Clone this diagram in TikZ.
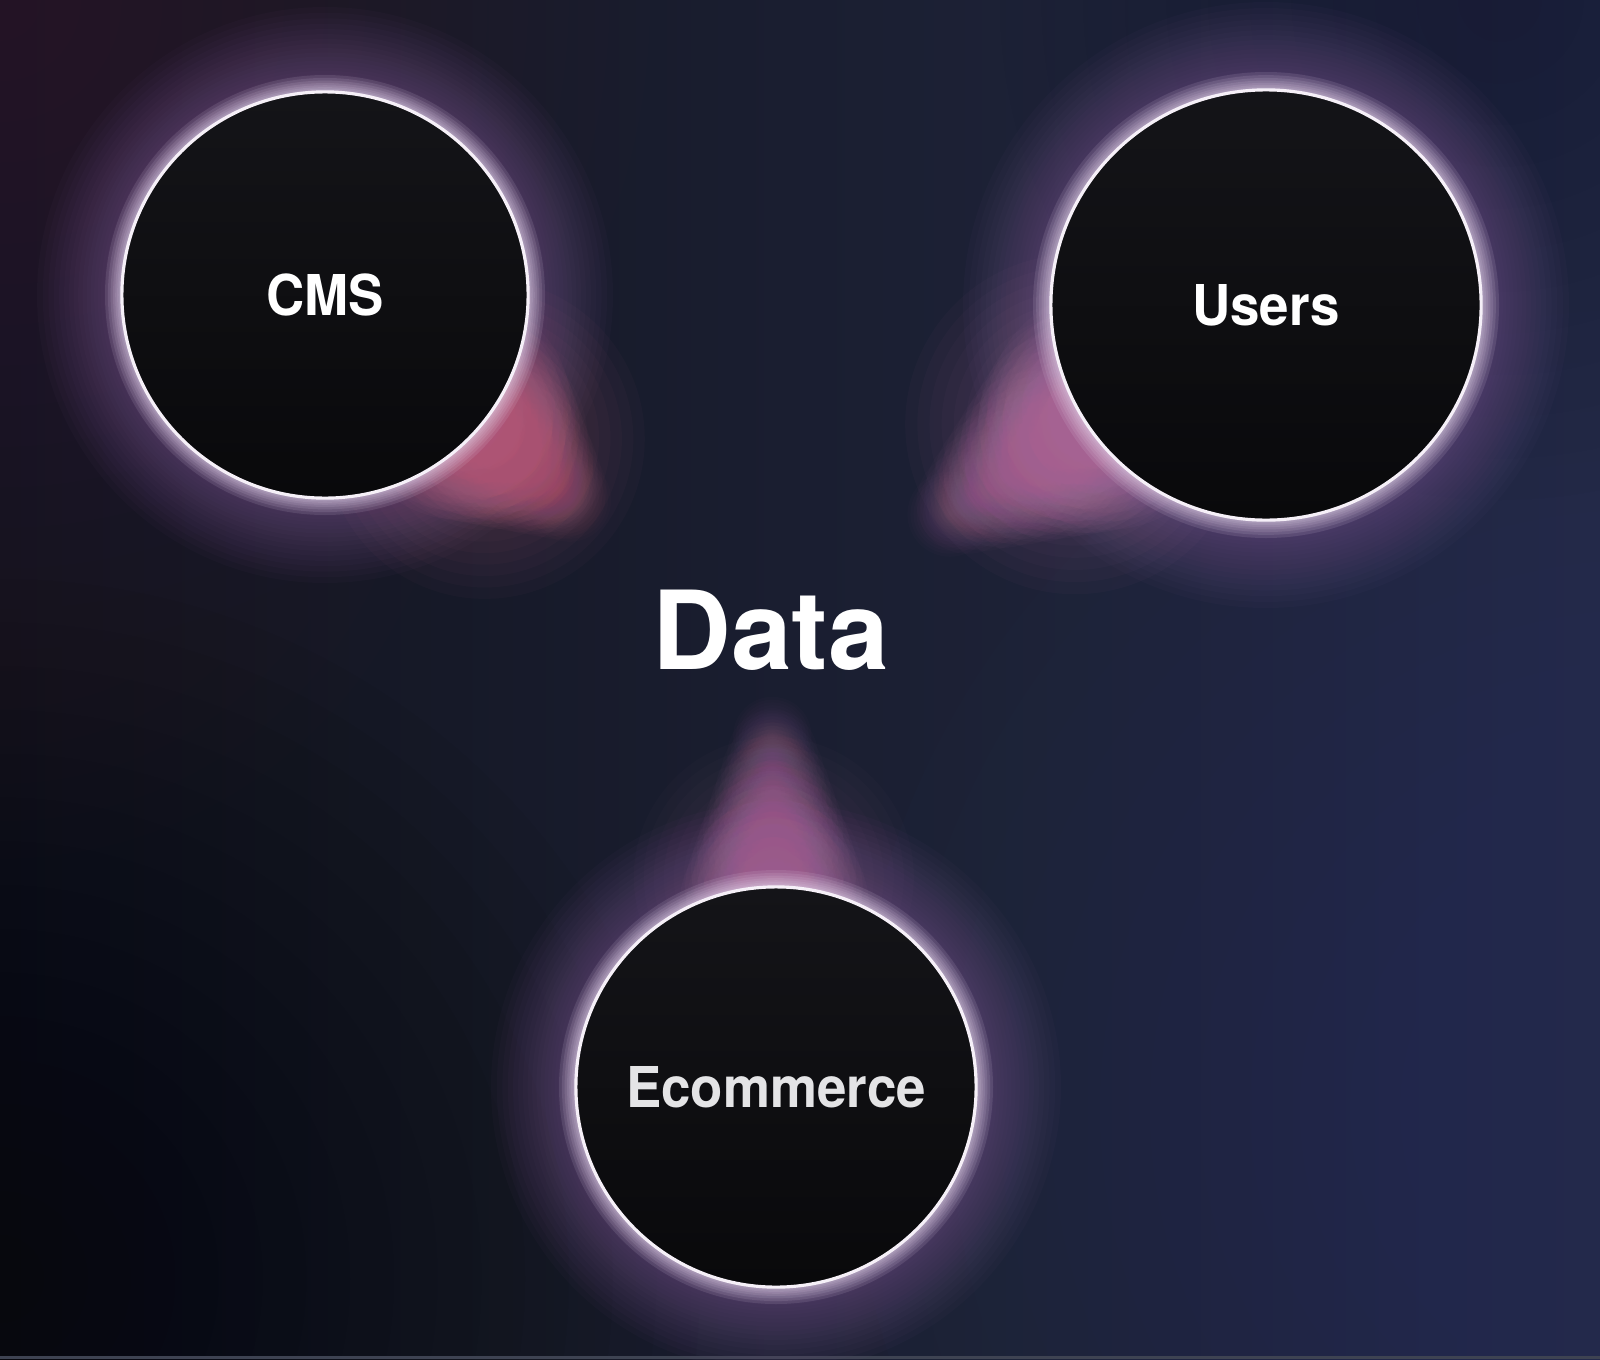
\documentclass[tikz,border=0pt]{standalone}
\usepackage{fontspec}
\setmainfont{TeX Gyre Heros}[FakeStretch=0.94]
\newfontfamily\datafont{TeX Gyre Heros}
\usetikzlibrary{calc}

\definecolor{bgL}{HTML}{11131D}
\definecolor{bgR}{HTML}{232944}
\definecolor{tintTL}{HTML}{3C2238}
\definecolor{tintLE}{HTML}{2A1C2E}
\definecolor{tintBL}{HTML}{07080C}
\definecolor{tintBR}{HTML}{323A62}
\definecolor{tintTR}{HTML}{181B2C}
\definecolor{haloWideC}{HTML}{7C5A92}
\definecolor{haloNarrowC}{HTML}{E6D8EE}
\definecolor{rimC}{HTML}{F6F0F8}
\definecolor{coreTop}{HTML}{141418}
\definecolor{coreBot}{HTML}{09090B}
\definecolor{coneCMS}{HTML}{CC7090}
\definecolor{coneUsers}{HTML}{C47EAE}
\definecolor{coneEcom}{HTML}{B876A8}
\definecolor{stripC}{HTML}{3E4352}
\definecolor{ecomText}{HTML}{E4E4E6}

% soft disc: centre, radius, colour, opacity per ring, number of rings
\newcommand\softdisc[5]{%
  \foreach \k in {1,...,#5} {\fill[#3, fill opacity=#4] (#1) circle ({#2*\k/#5});}}
% halo: centre, inner radius, glow width, colour, opacity per ring, rings
\newcommand\halo[6]{%
  \foreach \k in {1,...,#6} {\fill[#4, fill opacity=#5] (#1) circle ({#2+#3*(\k/#6)^1.8});}}

\tikzset{
  bubble/.style={circle, inner sep=0pt, outer sep=0pt, top color=coreTop, bottom color=coreBot,
    draw=rimC, line width=0.9pt, font=\fontsize{16}{19}\selectfont\bfseries},
  bigword/.style={text=white, inner sep=0pt, font=\datafont\fontsize{31}{36}\selectfont\bfseries}
}

\begin{document}
\begin{tikzpicture}[x=0.01cm, y=0.01cm]
\useasboundingbox (0,0) rectangle (1600,1359);
\begin{scope}
\clip (0,0) rectangle (1600,1359);
% background
\shade[left color=bgL, right color=bgR] (0,0) rectangle (1600,1359);
\softdisc{0,1359}{650}{tintTL}{0.05}{16}
\softdisc{0,950}{450}{tintLE}{0.05}{12}
\softdisc{0,80}{700}{tintBL}{0.05}{16}
\softdisc{1650,250}{800}{tintBR}{0.045}{16}
\softdisc{1500,1359}{500}{tintTR}{0.04}{12}
\fill[stripC] (0,0) rectangle (1600,3);

% coordinates
\coordinate (pc) at (325,1064);
\coordinate (pu) at (1266,1054);
\coordinate (pe) at (776,272);

% wide halos
\halo{pc}{203}{85}{haloWideC}{0.045}{26}
\halo{pu}{215}{88}{haloWideC}{0.045}{26}
\halo{pe}{200}{85}{haloWideC}{0.045}{26}

% broad diffuse bases of the cones
\softdisc{$(pc)+(-42:215)$}{160}{coneCMS}{0.03}{14}
\softdisc{$(pu)+(212:225)$}{170}{coneUsers}{0.03}{14}
\softdisc{$(pe)+(90.6:210)$}{140}{coneEcom}{0.025}{14}

% cones
\foreach \t in {0,0.1,...,1.0} {
  \pgfmathsetmacro\op{0.04-0.024*\t}
  \pgfmathsetmacro\rc{112-78*\t}
  \pgfmathsetmacro\ru{120-86*\t}
  \pgfmathsetmacro\re{95-62*\t}
  \coordinate (bc) at ($(pc)+(-40:{175+160*\t})$);
  \coordinate (bu) at ($(pu)+(213.5:{190+210*\t})$);
  \coordinate (be) at ($(pe)+(90.6:{180+190*\t})$);
  \softdisc{bc}{\rc}{coneCMS}{\op}{14}
  \softdisc{bu}{\ru}{coneUsers}{\op}{14}
  \softdisc{be}{\re}{coneEcom}{\op}{14}
}

% narrow halos
\halo{pc}{203}{17}{haloNarrowC}{0.12}{10}
\halo{pu}{215}{18}{haloNarrowC}{0.12}{10}
\halo{pe}{200}{17}{haloNarrowC}{0.12}{10}
\end{scope}

% bubbles
\node[bubble, minimum size=4.06cm, text=white] (cms) at (pc) {CMS};
\node[bubble, minimum size=4.30cm, text=white] (users) at (pu) {Users};
\node[bubble, minimum size=4.00cm, text=ecomText] (ecom) at (pe) {Ecommerce};

\node[bigword] (data) at (771,729) {Data};
\end{tikzpicture}
\end{document}
